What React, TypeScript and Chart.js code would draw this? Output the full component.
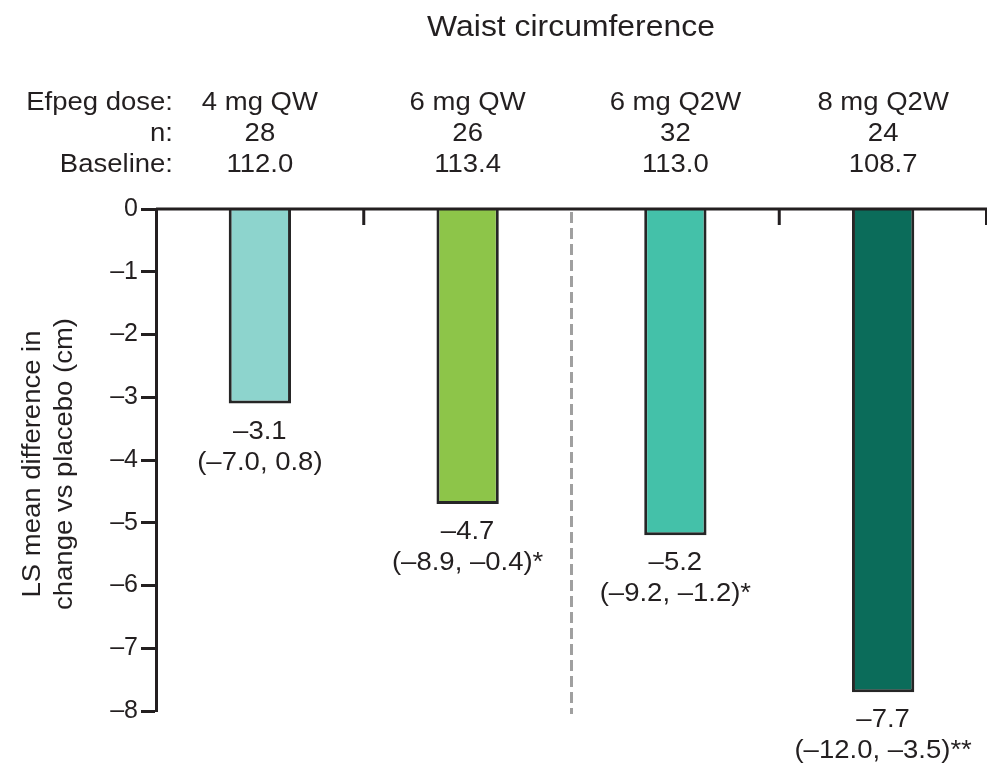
import React, { useEffect, useRef } from "react";
import { Chart, registerables } from "chart.js";

Chart.register(...registerables);

const chartTitle = "Waist circumference";
const doses = ["4 mg QW", "6 mg QW", "6 mg Q2W", "8 mg Q2W"];
const nValues = ["28", "26", "32", "24"];
const baselines = ["112.0", "113.4", "113.0", "108.7"];
const lsMeanDiff = [-3.1, -4.7, -5.2, -7.7];
const ciLabels = ["(\u20137.0, 0.8)", "(\u20138.9, \u20130.4)*", "(\u20139.2, \u20131.2)*", "(\u201312.0, \u20133.5)**"];
const rowLabels = ["Efpeg dose:", "n:", "Baseline:"];
const yTitleLines = ["LS mean difference in", "change vs placebo (cm)"];
const yTicks = [0, -1, -2, -3, -4, -5, -6, -7, -8];
const barColors = ["#8dd4cd", "#8dc549", "#44c1a9", "#0b6c5a"];

const FAMILY = "'Liberation Sans', Arial, Helvetica, sans-serif";
const INK = "#231f20";
const SX = 1.1;

const fmt = (v: number) => (v < 0 ? "\u2013" + Math.abs(v).toString() : v.toString());

function drawText(ctx: CanvasRenderingContext2D, text: string, x: number, y: number, align: CanvasTextAlign, size: number, rot = 0) {
  ctx.save();
  ctx.translate(x, y);
  if (rot) ctx.rotate(rot);
  ctx.scale(SX, 1);
  ctx.font = `${size}px ${FAMILY}`;
  ctx.fillStyle = INK;
  ctx.textAlign = align;
  ctx.textBaseline = "alphabetic";
  ctx.fillText(text, 0, 0);
  ctx.restore();
}

const decorPlugin = {
  id: "decor",
  afterDatasetsDraw(chart: any) {
    const ctx: CanvasRenderingContext2D = chart.ctx;
    const xs = chart.scales.x;
    const ys = chart.scales.y;
    const area = chart.chartArea;
    const y0 = ys.getPixelForValue(0);
    const yMin = ys.getPixelForValue(-8);

    // dashed separator between QW and Q2W
    const sepX = (xs.getPixelForValue(1) + xs.getPixelForValue(2)) / 2;
    ctx.save();
    ctx.strokeStyle = "#a0a0a0";
    ctx.lineWidth = 3;
    ctx.setLineDash([11, 5]);
    ctx.beginPath();
    ctx.moveTo(sepX, y0 + 3);
    ctx.lineTo(sepX, yMin + 3);
    ctx.stroke();
    ctx.restore();

    // top axis line at zero and category ticks
    ctx.save();
    ctx.strokeStyle = INK;
    ctx.lineWidth = 3;
    ctx.beginPath();
    ctx.moveTo(area.left, y0);
    ctx.lineTo(area.right + 2, y0);
    const half = (xs.getPixelForValue(1) - xs.getPixelForValue(0)) / 2;
    [0, 2, 3].forEach((i) => {
      const bx = Math.min(xs.getPixelForValue(i) + half, area.right - 0.5);
      ctx.moveTo(bx, y0);
      ctx.lineTo(bx, y0 + 16);
    });
    ctx.stroke();
    ctx.restore();

    // title
    drawText(ctx, chartTitle, (area.left + area.right) / 2 - 0.5, 36, "center", 29);

    // header rows
    const rowY = [110, 141, 172];
    const labelRight = 173;
    rowLabels.forEach((t, r) => drawText(ctx, t, labelRight, rowY[r], "right", 25));
    doses.forEach((d, i) => {
      const cx = xs.getPixelForValue(i);
      drawText(ctx, d, cx, rowY[0], "center", 25);
      drawText(ctx, nValues[i], cx, rowY[1], "center", 25);
      drawText(ctx, baselines[i], cx, rowY[2], "center", 25);
    });

    // bar value labels
    const meta = chart.getDatasetMeta(0);
    meta.data.forEach((bar: any, i: number) => {
      drawText(ctx, fmt(lsMeanDiff[i]), bar.x, bar.y + 35, "center", 25);
      drawText(ctx, ciLabels[i], bar.x, bar.y + 66, "center", 25);
    });

    // y title
    const cy = (area.top + area.bottom) / 2 + 4;
    drawText(ctx, yTitleLines[0], 40, cy, "center", 25, -Math.PI / 2);
    drawText(ctx, yTitleLines[1], 72, cy, "center", 25, -Math.PI / 2);
  },
};

export default function App() {
  const ref = useRef<HTMLCanvasElement | null>(null);
  useEffect(() => {
    document.body.style.margin = "0";
    if (!ref.current) return;
    const chart = new Chart(ref.current, {
      type: "bar",
      data: {
        labels: doses,
        datasets: [
          {
            data: lsMeanDiff,
            backgroundColor: barColors,
            borderColor: "#262626",
            borderWidth: 3,
            barPercentage: 0.3,
            categoryPercentage: 1,
          },
        ],
      },
      options: {
        animation: false,
        responsive: true,
        maintainAspectRatio: false,
        layout: { padding: { top: 209, bottom: 58, left: 0, right: 0 } },
        plugins: { legend: { display: false }, tooltip: { enabled: false }, title: { display: false } },
        scales: {
          x: { type: "category", display: false, offset: true },
          y: {
            min: -8,
            max: 0,
            afterFit: (s: any) => {
              s.width = 156;
            },
            afterBuildTicks: (s: any) => {
              s.ticks = yTicks.map((v) => ({ value: v }));
            },
            ticks: {
              stepSize: 1,
              padding: 3,
              color: INK,
              font: { family: FAMILY, size: 25 },
              callback: (v: any) => fmt(Number(v)),
            },
            grid: { drawOnChartArea: false, tickLength: 15, tickWidth: 3, tickColor: INK },
            border: { display: true, width: 3, color: INK },
          },
        },
      },
      plugins: [decorPlugin],
    });
    return () => chart.destroy();
  }, []);
  return (
    <div style={{ width: 987, height: 769, position: "relative" }}>
      <canvas ref={ref} />
    </div>
  );
}
